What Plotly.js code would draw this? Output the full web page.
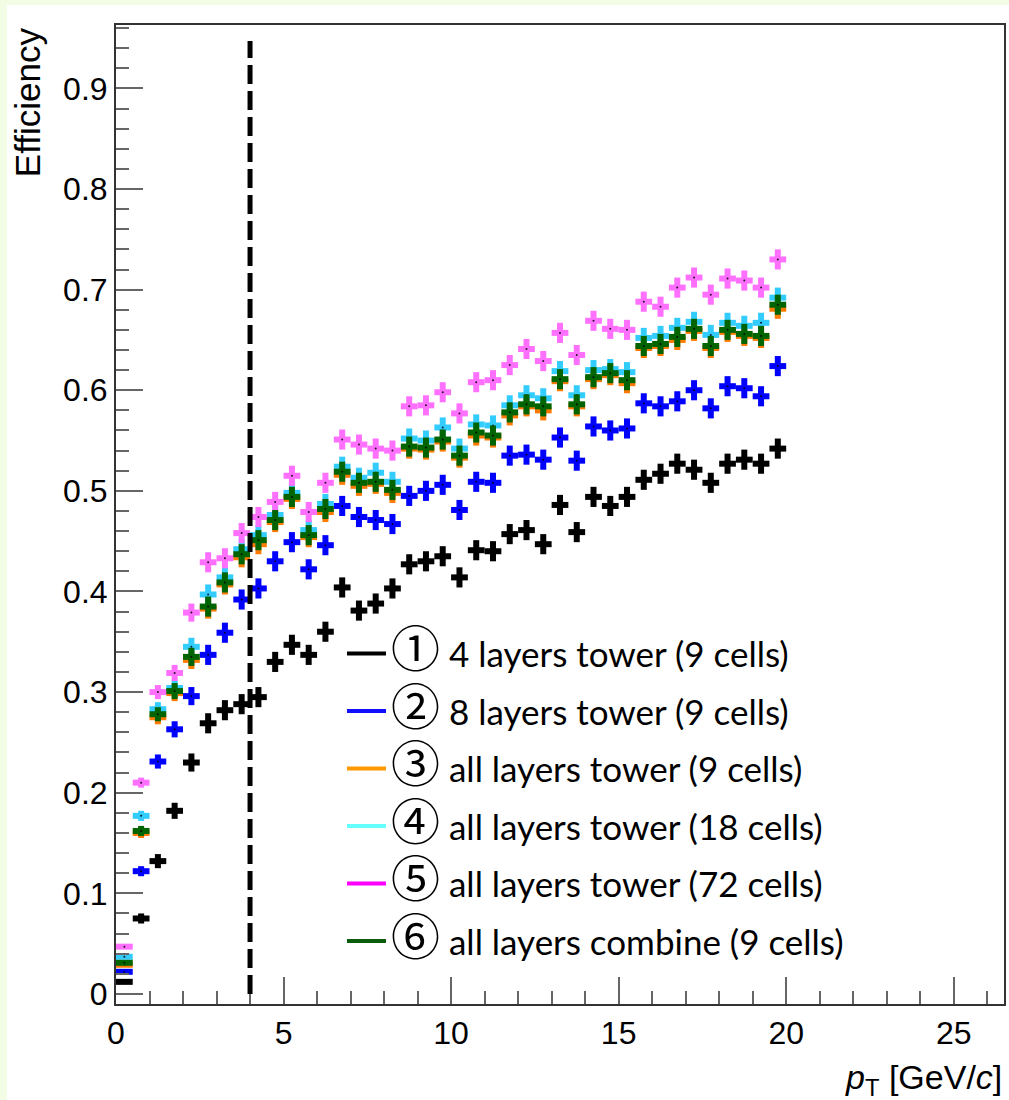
<!DOCTYPE html>
<html>
<head>
<meta charset="utf-8">
<script src="https://cdn.plot.ly/plotly-3.0.1.min.js"></script>
<style>
  html, body { margin: 0; padding: 0; background: #f3fde5; }
  #chart { position: absolute; left: 7px; top: 5px; width: 1002px; height: 1095px; background: #ffffff; }
</style>
</head>
<body>
<div id="chart"></div>
<script>
// pT bin centres (0.5 GeV/c wide bins from 0 to 20 GeV/c)
const ptBins = [0.25, 0.75, 1.25, 1.75, 2.25, 2.75, 3.25, 3.75, 4.25, 4.75,
                5.25, 5.75, 6.25, 6.75, 7.25, 7.75, 8.25, 8.75, 9.25, 9.75,
                10.25, 10.75, 11.25, 11.75, 12.25, 12.75, 13.25, 13.75, 14.25, 14.75,
                15.25, 15.75, 16.25, 16.75, 17.25, 17.75, 18.25, 18.75, 19.25, 19.75];
const binHalfWidth = 0.25;

// Efficiency per configuration
const eff4LayersTower9 = [0.012, 0.075, 0.132, 0.182, 0.230, 0.269, 0.282, 0.288, 0.295, 0.330,
                          0.347, 0.337, 0.360, 0.404, 0.381, 0.388, 0.403, 0.427, 0.430, 0.435,
                          0.414, 0.441, 0.440, 0.457, 0.461, 0.447, 0.486, 0.459, 0.494, 0.485,
                          0.494, 0.511, 0.517, 0.527, 0.521, 0.508, 0.527, 0.531, 0.527, 0.542];
const eff8LayersTower9 = [0.022, 0.122, 0.231, 0.263, 0.296, 0.337, 0.359, 0.392, 0.403, 0.430,
                          0.449, 0.422, 0.446, 0.485, 0.474, 0.471, 0.467, 0.495, 0.500, 0.506,
                          0.481, 0.509, 0.508, 0.535, 0.536, 0.531, 0.553, 0.530, 0.564, 0.560,
                          0.562, 0.587, 0.584, 0.589, 0.600, 0.582, 0.604, 0.602, 0.594, 0.624];
const effAllTower9 = [0.029, 0.160, 0.275, 0.299, 0.332, 0.383, 0.407, 0.434, 0.447, 0.469,
                      0.492, 0.454, 0.479, 0.516, 0.505, 0.507, 0.498, 0.542, 0.541, 0.549,
                      0.533, 0.555, 0.553, 0.575, 0.584, 0.580, 0.609, 0.584, 0.611, 0.615,
                      0.607, 0.642, 0.644, 0.650, 0.659, 0.642, 0.658, 0.654, 0.652, 0.681];
const effAllTower18 = [0.037, 0.177, 0.283, 0.304, 0.345, 0.397, 0.414, 0.442, 0.456, 0.476,
                       0.498, 0.461, 0.487, 0.524, 0.513, 0.518, 0.509, 0.552, 0.550, 0.563,
                       0.542, 0.566, 0.565, 0.585, 0.595, 0.592, 0.619, 0.595, 0.620, 0.621,
                       0.618, 0.652, 0.654, 0.662, 0.668, 0.655, 0.667, 0.664, 0.667, 0.692];
const effAllTower72 = [0.047, 0.210, 0.300, 0.319, 0.379, 0.429, 0.433, 0.458, 0.474, 0.489,
                       0.515, 0.479, 0.508, 0.551, 0.546, 0.542, 0.540, 0.584, 0.585, 0.598,
                       0.577, 0.608, 0.610, 0.625, 0.641, 0.629, 0.657, 0.635, 0.669, 0.661,
                       0.660, 0.688, 0.683, 0.702, 0.712, 0.695, 0.711, 0.709, 0.702, 0.730];
const effAllCombine9 = [0.031, 0.162, 0.278, 0.301, 0.335, 0.385, 0.409, 0.437, 0.451, 0.471,
                        0.494, 0.456, 0.482, 0.519, 0.508, 0.509, 0.501, 0.544, 0.543, 0.551,
                        0.535, 0.558, 0.555, 0.578, 0.586, 0.584, 0.611, 0.586, 0.613, 0.617,
                        0.610, 0.644, 0.646, 0.653, 0.661, 0.644, 0.660, 0.656, 0.654, 0.685];

// Statistical uncertainty on the efficiency
const effErr = [0.002, 0.005, 0.007, 0.008, 0.009, 0.010, 0.010, 0.010, 0.010, 0.010,
                0.010, 0.010, 0.010, 0.010, 0.010, 0.010, 0.010, 0.010, 0.010, 0.010,
                0.010, 0.010, 0.010, 0.010, 0.010, 0.010, 0.010, 0.010, 0.010, 0.010,
                0.010, 0.010, 0.010, 0.010, 0.010, 0.010, 0.010, 0.010, 0.010, 0.010];

// Legend numbering, labels and colours
const seriesNumbers = ["①", "②", "③", "④", "⑤", "⑥"];
const seriesLabels = [
  "4 layers tower (9 cells)",
  "8 layers tower (9 cells)",
  "all layers tower (9 cells)",
  "all layers tower (18 cells)",
  "all layers tower (72 cells)",
  "all layers combine (9 cells)"
];
const seriesValues = [eff4LayersTower9, eff8LayersTower9, effAllTower9, effAllTower18, effAllTower72, effAllCombine9];
const markerColors = ["#000000", "#0000ff", "#ff7a00", "#33ccff", "#ff70ff", "#006400"];
const legendColors = ["#000000", "#1010ff", "#ff9900", "#66ffff", "#ff00ff", "#0b5c0b"];

// Trigger threshold marker
const thresholdPt = 4;
const thresholdTop = 0.947;

const traces = [];
seriesValues.forEach((vals, i) => {
  traces.push({
    type: "scatter",
    mode: "markers",
    x: ptBins,
    y: vals,
    showlegend: false,
    hoverinfo: "skip",
    marker: { size: 2, color: "rgba(0,0,0,0.85)" },
    error_x: { type: "constant", value: binHalfWidth, thickness: 6, width: 0, color: markerColors[i] },
    error_y: { type: "data", array: effErr, thickness: 6, width: 0, color: markerColors[i] }
  });
});
// line-style legend entries
seriesLabels.forEach((label, i) => {
  traces.push({
    type: "scatter",
    mode: "lines",
    x: [null],
    y: [null],
    name: "<span style='font-family:Noto Sans CJK JP;font-size:49px'>" + seriesNumbers[i] + "</span>\u00A0" + label,
    legendgroup: "g" + i,
    showlegend: true,
    line: { color: legendColors[i], width: 4 }
  });
});

const axisFont = { family: "Liberation Sans, Arial, Helvetica, sans-serif", size: 32, color: "#000" };

const layout = {
  width: 1002,
  height: 1095,
  paper_bgcolor: "#ffffff",
  plot_bgcolor: "#ffffff",
  margin: { l: 109, r: 5, t: 20, b: 96 },
  showlegend: true,
  legend: {
    x: 0.2545, xanchor: "left",
    y: 0.388, yanchor: "top",
    bgcolor: "rgba(0,0,0,0)",
    borderwidth: 0,
    itemwidth: 39,
    tracegroupgap: 9,
    font: { family: "Lato, Noto Sans CJK JP, sans-serif", size: 35, color: "#000" }
  },
  xaxis: {
    range: [0, 26.5],
    showgrid: false, zeroline: false,
    showline: true, linecolor: "#333", linewidth: 2, mirror: true,
    ticks: "inside", ticklen: 27, tickwidth: 2, tickcolor: "#666",
    tick0: 0, dtick: 5,
    minor: { ticks: "inside", dtick: 1, ticklen: 13, tickwidth: 2, tickcolor: "#666", showgrid: false },
    tickfont: axisFont
  },
  yaxis: {
    range: [-0.01, 0.963],
    showgrid: false, zeroline: false,
    showline: true, linecolor: "#333", linewidth: 2, mirror: true,
    ticks: "inside", ticklen: 27, tickwidth: 2, tickcolor: "#666",
    tick0: 0, dtick: 0.1,
    minor: { ticks: "inside", dtick: 0.02, ticklen: 13, tickwidth: 2, tickcolor: "#666", showgrid: false },
    tickfont: axisFont
  },
  shapes: [{
    type: "line", xref: "x", yref: "y",
    x0: thresholdPt, x1: thresholdPt, y0: 0, y1: thresholdTop,
    line: { color: "#000", width: 5, dash: "19px,7px" },
    layer: "above"
  }],
  annotations: [
    {
      text: "Efficiency",
      xref: "paper", yref: "paper",
      x: -0.1, y: 1, xanchor: "center", yanchor: "top",
      textangle: -90, showarrow: false,
      font: { family: "Liberation Sans, Arial, Helvetica, sans-serif", size: 35, color: "#000" }
    },
    {
      text: "<i>p</i><sub>T</sub> [GeV/<i>c</i>]",
      xref: "paper", yref: "paper",
      x: 1, y: -0.0773, xanchor: "right", yanchor: "middle",
      showarrow: false,
      font: { family: "Liberation Sans, Arial, Helvetica, sans-serif", size: 34, color: "#000" }
    }
  ]
};

Plotly.newPlot("chart", traces, layout, { staticPlot: true, displayModeBar: false });
</script>
</body>
</html>
